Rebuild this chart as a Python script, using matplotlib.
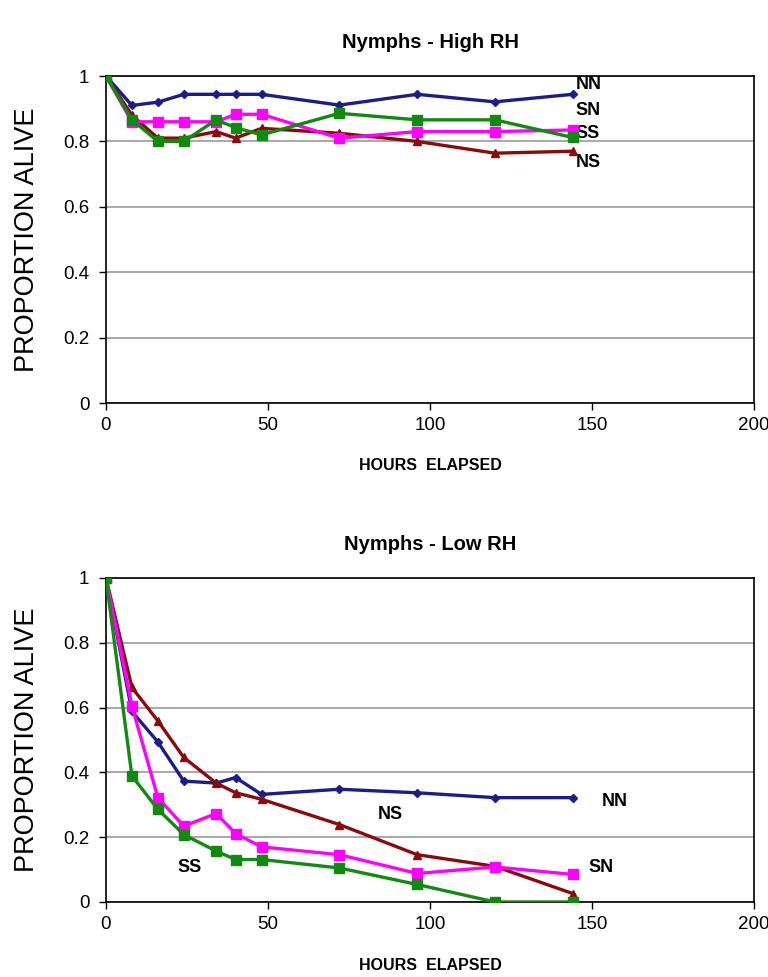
import matplotlib
matplotlib.use("Agg")
import matplotlib.pyplot as plt

plt.rcParams['font.family'] = ['Liberation Sans', 'DejaVu Sans']

hours = [0, 8, 16, 24, 34, 40, 48, 72, 96, 120, 144]

# high RH
high_nn = [1.0, 0.91, 0.92, 0.944, 0.944, 0.944, 0.944, 0.911, 0.944, 0.921, 0.944]
high_ns = [1.0, 0.88, 0.81, 0.81, 0.83, 0.81, 0.84, 0.825, 0.80, 0.764, 0.77]
high_sn = [1.0, 0.86, 0.86, 0.86, 0.86, 0.883, 0.883, 0.81, 0.83, 0.83, 0.835]
high_ss = [1.0, 0.866, 0.80, 0.80, 0.866, 0.842, 0.82, 0.886, 0.866, 0.866, 0.812]

# low RH
low_nn = [1.0, 0.588, 0.494, 0.373, 0.367, 0.384, 0.332, 0.348, 0.337, 0.322, 0.322]
low_ns = [1.0, 0.662, 0.559, 0.446, 0.367, 0.337, 0.317, 0.239, 0.146, 0.110, 0.026]
low_sn = [1.0, 0.605, 0.322, 0.234, 0.273, 0.211, 0.170, 0.146, 0.088, 0.108, 0.085]
low_ss = [1.0, 0.389, 0.286, 0.208, 0.157, 0.131, 0.131, 0.105, 0.054, 0.0, 0.0]

high_labels = [("NN", 145, 0.975), ("SN", 145, 0.896), ("SS", 145, 0.823), ("NS", 145, 0.737)]
low_labels = [("NN", 153, 0.31), ("NS", 84, 0.27), ("SS", 22, 0.105), ("SN", 149, 0.105)]

c_blue = "#1c1c8a"
c_red = "#8b0a0a"
c_pink = "#ff00ff"
c_green = "#128a12"


def draw(ax, nn, ns, sn, ss, title, labels, xlab_y):
    lw = 2.4
    ax.plot(hours, nn, color=c_blue, lw=lw, marker="D", ms=4.5, zorder=3)
    ax.plot(hours, ns, color=c_red, lw=lw, marker="^", ms=5.5, zorder=4)
    ax.plot(hours, sn, color=c_pink, lw=lw, marker="s", ms=6.5, zorder=5)
    ax.plot(hours, ss, color=c_green, lw=lw, marker="s", ms=6.5, zorder=6)
    ax.set_xlim(0, 200)
    ax.set_ylim(0, 1)
    ax.set_xticks([0, 50, 100, 150, 200])
    ax.set_yticks([0, 0.2, 0.4, 0.6, 0.8, 1])
    ax.set_yticklabels(["0", "0.2", "0.4", "0.6", "0.8", "1"])
    ax.yaxis.grid(True, color="#999999", lw=1.2)
    ax.set_axisbelow(True)
    for s in ax.spines.values():
        s.set_color("black")
        s.set_linewidth(1.2)
    ax.tick_params(direction="out", length=5, labelsize=13.5, width=1)
    ax.tick_params(axis="y", pad=7)
    ax.tick_params(axis="x", pad=5)
    ax.set_title(title, fontsize=14.5, fontweight="bold", y=1.103, va="center", pad=0)
    ax.set_xlabel("HOURS  ELAPSED", fontsize=11.5, fontweight="bold")
    ax.xaxis.set_label_coords(0.5, xlab_y)
    ax.xaxis.label.set_va("center")
    ax.set_ylabel("PROPORTION ALIVE", fontsize=19.5)
    ax.yaxis.set_label_coords(-0.122, 0.5)
    ax.yaxis.label.set_va("center")
    for txt, x, y in labels:
        ax.text(x, y, txt, fontsize=13, fontweight="bold", va="center", ha="left",
                clip_on=False)


fig = plt.figure(figsize=(7.68, 9.77), dpi=100)
ax1 = fig.add_axes([0.138, 0.5875, 0.844, 0.3347])
ax2 = fig.add_axes([0.138, 0.0768, 0.844, 0.3316])
draw(ax1, high_nn, high_ns, high_sn, high_ss, "Nymphs - High RH", high_labels, -0.19)
draw(ax2, low_nn, low_ns, low_sn, low_ss, "Nymphs - Low RH", low_labels, -0.197)
fig.savefig("out.png", dpi=100)
